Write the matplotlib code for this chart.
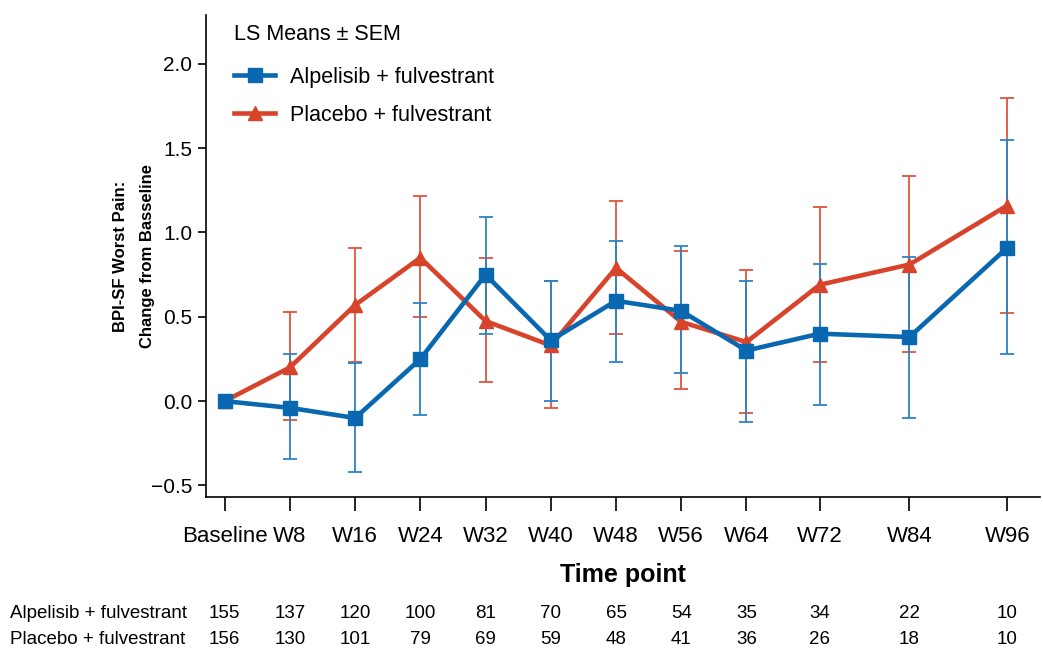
import matplotlib
matplotlib.use("Agg")
import matplotlib.pyplot as plt
import matplotlib.transforms as mtransforms

plt.rcParams['font.family'] = ['Liberation Sans', 'DejaVu Sans']

# data
timepoints = ['Baseline', 'W8', 'W16', 'W24', 'W32', 'W40', 'W48', 'W56', 'W64', 'W72', 'W84', 'W96']
alp_mean = [0.0, -0.04, -0.10, 0.25, 0.75, 0.36, 0.595, 0.535, 0.30, 0.40, 0.38, 0.91]
alp_upper = [0.0, 0.277, 0.227, 0.579, 1.091, 0.715, 0.948, 0.919, 0.715, 0.816, 0.855, 1.547]
alp_lower = [0.0, -0.346, -0.419, -0.083, 0.397, 0.0, 0.233, 0.164, -0.122, -0.02, -0.103, 0.277]
pla_mean = [0.0, 0.20, 0.57, 0.85, 0.475, 0.33, 0.79, 0.47, 0.35, 0.69, 0.81, 1.16]
pla_upper = [0.0, 0.528, 0.907, 1.215, 0.846, 0.71, 1.185, 0.891, 0.777, 1.154, 1.334, 1.80]
pla_lower = [0.0, -0.113, 0.231, 0.50, 0.113, -0.043, 0.397, 0.071, -0.073, 0.233, 0.292, 0.52]
alp_n = [155, 137, 120, 100, 81, 70, 65, 54, 35, 34, 22, 10]
pla_n = [156, 130, 101, 79, 69, 59, 48, 41, 36, 26, 18, 10]

# layout: where each time point sits on the axis
x_pos = [0, 8, 16, 24, 32, 40, 48, 56, 64, 73, 84, 96]

blue = '#0a68b1'
blue_err = '#2a84c6'
red = '#d8432b'
red_err = '#e0553c'

fig = plt.figure(figsize=(10.43, 6.5), dpi=100)
ax = fig.add_axes([0.1975, 0.235, 0.7995, 0.742])

def err(mean, lo, hi):
    return [[m - l for m, l in zip(mean, lo)], [h - m for m, h in zip(mean, hi)]]

ax.errorbar(x_pos, pla_mean, yerr=err(pla_mean, pla_lower, pla_upper), fmt='none',
            ecolor=red_err, elinewidth=1.3, capsize=5, capthick=1.3, zorder=1)
ax.errorbar(x_pos, alp_mean, yerr=err(alp_mean, alp_lower, alp_upper), fmt='none',
            ecolor=blue_err, elinewidth=1.3, capsize=5, capthick=1.3, zorder=1)
l2, = ax.plot(x_pos, pla_mean, color=red, lw=3.3, marker='^', ms=10, zorder=3,
              label='Placebo + fulvestrant')
l1, = ax.plot(x_pos, alp_mean, color=blue, lw=3.3, marker='s', ms=10.5, zorder=4,
              label='Alpelisib + fulvestrant')

ax.set_xlim(-2.3, 100)
ax.set_ylim(-0.57, 2.29)
ax.set_yticks([-0.5, 0.0, 0.5, 1.0, 1.5, 2.0])
ax.set_yticklabels(['\u22120.5', '0.0', '0.5', '1.0', '1.5', '2.0'])
ax.set_xticks(x_pos)
ax.set_xticklabels(timepoints)
ax.tick_params(axis='y', labelsize=15, length=6, width=1.2, pad=4)
ax.tick_params(axis='x', labelsize=16, length=10, width=1.2, pad=11)
ax.spines['top'].set_visible(False)
ax.spines['right'].set_visible(False)
ax.spines['left'].set_linewidth(1.2)
ax.spines['bottom'].set_linewidth(1.2)

ax.set_xlabel('Time point', fontsize=18, fontweight='bold', labelpad=11)
ax.set_ylabel('BPI-SF Worst Pain:\nChange from Basseline', fontsize=12,
              fontweight='bold', labelpad=-3, linespacing=1.95)

leg = ax.legend(handles=[l1, l2], title='LS Means \u00b1 SEM', loc='upper left',
                bbox_to_anchor=(0.0236, 1.0), frameon=False, fontsize=15.5,
                title_fontsize=15.5, alignment='left', handlelength=1.9,
                handletextpad=0.7, labelspacing=0.8, borderaxespad=0.0,
                borderpad=0.4)
# a bit more room between the title and the entries
leg._legend_box.sep += 3.6

# numbers at risk table
trans = mtransforms.blended_transform_factory(ax.transData, fig.transFigure)
rows = [('Alpelisib + fulvestrant', alp_n, 1 - 614 / 650),
        ('Placebo + fulvestrant', pla_n, 1 - 640 / 650)]
for label, counts, yy in rows:
    fig.text(10 / 1043, yy, label, fontsize=13.5, ha='left', va='center')
    for xp, c in zip(x_pos, counts):
        ax.text(xp, yy, str(c), fontsize=13.5, ha='center', va='center',
                transform=trans, clip_on=False)

fig.savefig('out.png', dpi=100)
